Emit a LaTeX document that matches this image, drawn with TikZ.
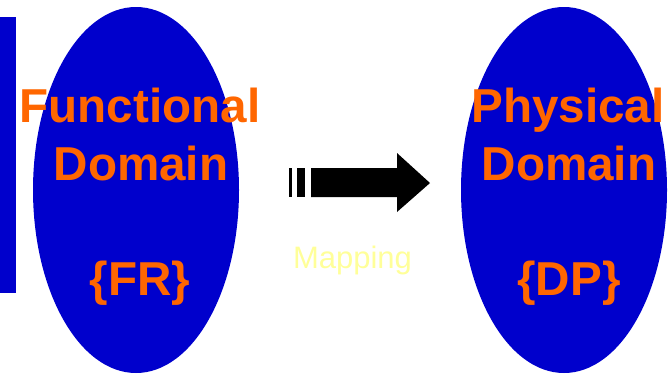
\documentclass[tikz,border=0pt]{standalone}
\usepackage{fontspec}
\setmainfont{Liberation Sans}
\usetikzlibrary{shapes.geometric}
\definecolor{domainblue}{HTML}{0000CC}
\definecolor{labelorange}{HTML}{FF6600}
\definecolor{mapyellow}{HTML}{FFFF99}
\tikzset{
  domainoval/.style={ellipse, fill=domainblue, draw=none, minimum width=206pt, minimum height=366pt, inner sep=0pt},
  bigtext/.style={text=labelorange, font=\fontsize{47.6}{47.6}\selectfont\bfseries, anchor=base, inner sep=0pt},
  maptext/.style={text=mapyellow, font=\fontsize{31}{31}\selectfont, anchor=base, inner sep=0pt},
}
\begin{document}
\begin{tikzpicture}[x=1pt, y=-1pt]
  \useasboundingbox (0,0) rectangle (671,373);
  % side bar
  \fill[domainblue] (0,17) rectangle (16,293);
  % the two domains
  \node[domainoval] (fd) at (136,190) {};
  \node[domainoval] (pd) at (564,190) {};
  % domain labels
  \node[bigtext] (fd1) at (140,122) {Functional};
  \node[bigtext] (fd2) at (141,180) {Domain};
  \node[bigtext] (fd3) at (140,295) {\{FR\}};
  \node[bigtext] (pd1) at (568,122) {Physical};
  \node[bigtext] (pd2) at (569,180) {Domain};
  \node[bigtext] (pd3) at (569,295) {\{DP\}};
  % striped block arrow
  \fill[black] (289,168) rectangle (291.5,197);
  \fill[black] (297,168) rectangle (304.5,197);
  \fill[black] (311,168) -- (397,168) -- (397,153) -- (430,183) -- (397,212) -- (397,197) -- (311,197) -- cycle;
  \node[maptext] (map) at (352.5,268) {Mapping};
\end{tikzpicture}
\end{document}
